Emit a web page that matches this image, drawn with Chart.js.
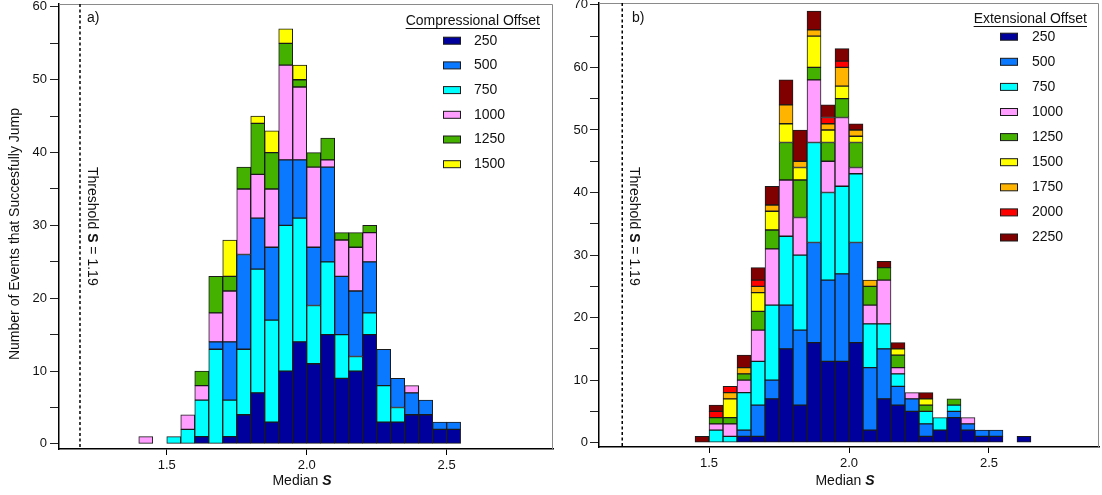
<!DOCTYPE html>
<html>
<head>
<meta charset="utf-8">
<script src="https://cdn.jsdelivr.net/npm/chart.js@4/dist/chart.umd.min.js"></script>
<style>
  html, body { margin: 0; padding: 0; background: #fff; }
  #wrap { position: relative; width: 1102px; height: 495px; }
  canvas { position: absolute; top: 0; }
  #left { left: 0; }
  #right { left: 560px; }
</style>
</head>
<body>
<div id="wrap">
  <canvas id="left" width="560" height="495"></canvas>
  <canvas id="right" width="542" height="495"></canvas>
</div>
<script>
// bin centres (bin width 0.05)
const compBins = [1.425, 1.475, 1.525, 1.575, 1.625, 1.675, 1.725, 1.775, 1.825, 1.875, 1.925, 1.975,
                  2.025, 2.075, 2.125, 2.175, 2.225, 2.275, 2.325, 2.375, 2.425, 2.475, 2.525];
const extBins = [1.475, 1.525, 1.575, 1.625, 1.675, 1.725, 1.775, 1.825, 1.875, 1.925, 1.975, 2.025,
                 2.075, 2.125, 2.175, 2.225, 2.275, 2.325, 2.375, 2.425, 2.475, 2.525, 2.575, 2.625];

// a) Compressional offset counts per bin
const comp250  = [0,0,0,0,1,0,1,4,7,3,10,14,11,15,9,10,15,3,3,4,4,2,2];
const comp500  = [0,0,0,0,0,1,8,13,7,10,9,8,8,13,8,9,7,5,4,3,2,1,1];
const comp750  = [0,0,1,2,5,13,5,9,17,14,20,17,8,10,6,2,3,5,2,0,0,0,0];
const comp1000 = [1,0,0,2,2,4,7,9,6,8,13,10,11,1,5,6,4,0,0,1,0,0,0];
const comp1250 = [0,0,0,0,2,5,2,3,7,5,3,1,2,3,1,2,1,0,0,0,0,0,0];
const comp1500 = [0,0,0,0,0,0,5,0,1,3,2,2,0,0,0,0,0,0,0,0,0,0,0];

// b) Extensional offset counts per bin
const ext250  = [0,0,0,1,1,7,15,6,16,13,13,16,2,7,6,5,1,2,4,2,1,1,0,1];
const ext500  = [0,0,0,1,5,3,7,12,16,13,14,16,10,8,3,2,2,0,1,1,1,1,0,0];
const ext750  = [0,2,1,6,7,12,11,12,16,14,14,11,7,4,2,0,2,2,1,0,0,0,0,0];
const ext1000 = [0,1,2,2,5,9,9,6,10,5,11,1,3,7,1,1,0,0,0,1,0,0,0,0];
const ext1250 = [0,1,1,1,3,3,6,6,2,3,3,4,3,2,2,0,1,0,1,0,0,0,0,0];
const ext1500 = [0,0,3,0,3,3,3,2,5,2,2,1,0,0,1,0,1,0,0,0,0,0,0,0];
const ext1750 = [0,0,1,1,1,1,3,1,1,1,3,1,1,0,0,0,0,0,0,0,0,0,0,0];
const ext2000 = [0,1,1,0,1,0,0,0,0,1,1,0,0,0,0,0,0,0,0,0,0,0,0,0];
const ext2250 = [1,1,0,2,2,3,4,5,3,2,2,1,0,1,1,0,1,0,0,0,0,0,0,0];

const xTicks = [1.5, 2.0, 2.5];
const threshold = 1.19;

const COLORS = {
    250: '#00009c', 500: '#0a78ff', 750: '#00ffff', 1000: '#ff9eff', 1250: '#44b000',
    1500: '#ffff00', 1750: '#ffb400', 2000: '#ff0000', 2250: '#800000'
};
const FONT = '"Liberation Sans", Arial, Helvetica, sans-serif';

function makeDatasets(bins, series) {
    return series.map(s => ({
        label: s.label,
        data: bins.map((b, i) => ({ x: b, y: s.values[i] ? s.values[i] : null })),
        backgroundColor: COLORS[s.label],
        borderColor: '#1a1a1a',
        borderWidth: 1,
        borderSkipped: false,
        barPercentage: 1,
        categoryPercentage: 1
    }));
}

// draw text made of several runs with different fonts
function drawRuns(ctx, runs, x, y, align) {
    let total = 0;
    runs.forEach(r => { ctx.font = r.font; total += ctx.measureText(r.text).width; });
    let cx = align === 'center' ? x - total / 2 : (align === 'right' ? x - total : x);
    ctx.textAlign = 'left';
    runs.forEach(r => {
        ctx.font = r.font;
        ctx.fillText(r.text, cx, y);
        cx += ctx.measureText(r.text).width;
    });
}

function decorations(cfg) {
    return {
        id: 'decor',
        afterDraw(chart) {
            const ctx = chart.ctx;
            const a = chart.chartArea;
            const xs = chart.scales.x.getPixelForValue(threshold);
            ctx.save();

            // thin frame on top and right
            ctx.strokeStyle = '#8a8a8a';
            ctx.lineWidth = 1;
            ctx.beginPath();
            ctx.moveTo(a.left, a.top + 0.5);
            ctx.lineTo(a.right - 0.5, a.top + 0.5);
            ctx.lineTo(a.right - 0.5, a.bottom);
            ctx.stroke();

            // threshold line
            ctx.strokeStyle = '#000';
            ctx.lineWidth = 1.5;
            ctx.setLineDash([3, 2.5]);
            ctx.beginPath();
            ctx.moveTo(xs, a.top);
            ctx.lineTo(xs, a.bottom);
            ctx.stroke();
            ctx.setLineDash([]);

            ctx.fillStyle = '#111';
            ctx.textBaseline = 'middle';

            // threshold label, rotated
            ctx.save();
            ctx.translate(xs + 11.5, 167);
            ctx.rotate(Math.PI / 2);
            drawRuns(ctx, [
                { text: 'Threshold ', font: `14px ${FONT}` },
                { text: 'S', font: `bold 14px ${FONT}` },
                { text: ' = 1.19', font: `14px ${FONT}` }
            ], 0, 0, 'left');
            ctx.restore();

            // panel letter
            ctx.font = `14px ${FONT}`;
            ctx.textAlign = 'left';
            ctx.fillText(cfg.letter, cfg.letterX, 18);

            // x title
            drawRuns(ctx, [
                { text: 'Median ', font: `14px ${FONT}` },
                { text: 'S', font: `italic bold 14px ${FONT}` }
            ], (a.left + a.right) / 2 - 4, 481, 'center');

            // y title
            if (cfg.yTitle) {
                ctx.save();
                ctx.translate(15, 234);
                ctx.rotate(-Math.PI / 2);
                ctx.font = `14px ${FONT}`;
                ctx.textAlign = 'center';
                ctx.fillText(cfg.yTitle, 0, 0);
                ctx.restore();
            }

            // legend
            const lg = cfg.legend;
            ctx.font = `14px ${FONT}`;
            ctx.textAlign = 'right';
            ctx.fillText(lg.title, lg.titleRight, lg.titleY);
            const tw = ctx.measureText(lg.title).width;
            ctx.strokeStyle = '#111';
            ctx.lineWidth = 1;
            ctx.beginPath();
            ctx.moveTo(lg.titleRight - tw, lg.titleY + 7.5);
            ctx.lineTo(lg.titleRight, lg.titleY + 7.5);
            ctx.stroke();

            ctx.textAlign = 'left';
            lg.items.forEach((it, i) => {
                const y = lg.rowY + i * lg.rowStep;
                ctx.fillStyle = COLORS[it];
                ctx.fillRect(lg.swatchX, y - 3.5, 18, 7);
                ctx.strokeStyle = '#1a1a1a';
                ctx.strokeRect(lg.swatchX + 0.5, y - 3.5, 17, 7);
                ctx.fillStyle = '#111';
                ctx.fillText(String(it), lg.textX, y);
            });
            ctx.restore();
        }
    };
}

function makeChart(canvasId, bins, series, opt) {
    return new Chart(document.getElementById(canvasId), {
        type: 'bar',
        data: { datasets: makeDatasets(bins, series) },
        options: {
            responsive: false,
            animation: false,
            layout: { padding: opt.padding },
            plugins: { legend: { display: false }, tooltip: { enabled: false } },
            scales: {
                x: {
                    type: 'linear',
                    stacked: true,
                    offset: false,
                    min: opt.xMin,
                    max: opt.xMax,
                    afterBuildTicks: ax => { ax.ticks = xTicks.map(v => ({ value: v })); },
                    afterFit: ax => { ax.height = opt.xHeight; ax.paddingLeft = 0; ax.paddingRight = 0; },
                    grid: { offset: false, drawOnChartArea: false, drawTicks: true, tickLength: 6, tickColor: '#000', tickWidth: 1 },
                    border: { display: true, color: '#000', width: 1.5 },
                    ticks: {
                        color: '#111', font: { family: FONT, size: 13 }, padding: 3,
                        maxRotation: 0, autoSkip: false,
                        callback: v => v.toFixed(1)
                    }
                },
                y: {
                    type: 'linear',
                    stacked: true,
                    min: opt.yMin,
                    max: opt.yMax,
                    afterBuildTicks: ax => {
                        const t = [];
                        for (let v = 0; v <= opt.yTop; v += 5) t.push({ value: v });
                        ax.ticks = t;
                    },
                    afterFit: ax => { ax.width = opt.yWidth; ax.paddingTop = 0; ax.paddingBottom = 0; },
                    grid: { drawOnChartArea: false, drawTicks: true, tickLength: 9, tickColor: '#222', tickWidth: 1 },
                    border: { display: true, color: '#000', width: 1.5 },
                    ticks: {
                        color: '#111', font: { family: FONT, size: 13 }, padding: opt.yPad,
                        autoSkip: false,
                        callback: v => (v % 10 === 0 ? String(v) : '')
                    }
                }
            }
        },
        plugins: [decorations(opt.decor)]
    });
}

makeChart('left', compBins, [
    { label: 250, values: comp250 },
    { label: 750, values: comp750 },
    { label: 500, values: comp500 },
    { label: 1000, values: comp1000 },
    { label: 1250, values: comp1250 },
    { label: 1500, values: comp1500 }
], {
    padding: { left: 0, top: 4, right: 7, bottom: 0 },
    xMin: 1.115, xMax: 2.88, xHeight: 46,
    yMin: -0.7, yMax: 60.4, yTop: 60, yWidth: 59, yPad: 3,
    decor: {
        letter: 'a)', letterX: 87,
        yTitle: 'Number of Events that Succesfully Jump',
        legend: {
            title: 'Compressional Offset', titleRight: 540, titleY: 21,
            items: [250, 500, 750, 1000, 1250, 1500],
            rowY: 40.7, rowStep: 24.7, swatchX: 443, textX: 474
        }
    }
});

makeChart('right', extBins, [
    { label: 250, values: ext250 },
    { label: 500, values: ext500 },
    { label: 750, values: ext750 },
    { label: 1000, values: ext1000 },
    { label: 1250, values: ext1250 },
    { label: 1500, values: ext1500 },
    { label: 1750, values: ext1750 },
    { label: 2000, values: ext2000 },
    { label: 2250, values: ext2250 }
], {
    padding: { left: 0, top: 3, right: 3, bottom: 0 },
    xMin: 1.107, xMax: 2.893, xHeight: 48,
    yMin: -0.69, yMax: 70.3, yTop: 70, yWidth: 39, yPad: 2,
    decor: {
        letter: 'b)', letterX: 72,
        yTitle: null,
        legend: {
            title: 'Extensional Offset', titleRight: 527, titleY: 19,
            items: [250, 500, 750, 1000, 1250, 1500, 1750, 2000, 2250],
            rowY: 36.7, rowStep: 25.1, swatchX: 440, textX: 472
        }
    }
});
</script>
</body>
</html>
